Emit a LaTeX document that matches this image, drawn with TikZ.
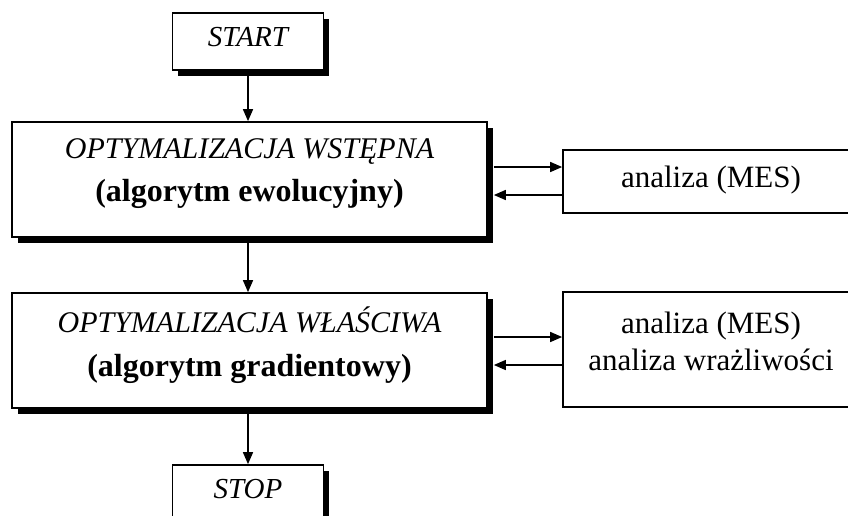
\documentclass[tikz,border=0pt]{standalone}
\usepackage{fontspec}
\setmainfont{Liberation Serif}
\usetikzlibrary{calc,shadows,arrows.meta}
\tikzset{
  box/.style={draw=black, line width=1.7pt, fill=white, rectangle, inner sep=0pt,
    drop shadow={shadow xshift=5.5pt, shadow yshift=-5.5pt, fill=black, opacity=1}},
  plainbox/.style={draw=black, line width=1.7pt, fill=white, rectangle, inner sep=0pt},
  txt/.style={inner sep=0pt, align=center, font=\fontsize{31}{43}\selectfont},
  arr/.style={line width=1.5pt, -{Triangle[length=12pt,width=10pt]}},
}
\begin{document}
\begin{tikzpicture}[x=1pt,y=-1pt]
\clip (0,0) rectangle (848,515);
\fill[white] (0,0) rectangle (848,515);
% boxes
\node[box, minimum width=151pt, minimum height=57pt] (start) at (248,41.5) {};
\node[box, minimum width=475pt, minimum height=115pt] (opt1) at (249.5,179.5) {};
\node[plainbox, minimum width=296pt, minimum height=63pt] (an1) at (711,181.5) {};
\node[box, minimum width=475pt, minimum height=115pt] (opt2) at (249.5,350.5) {};
\node[plainbox, minimum width=296pt, minimum height=115pt] (an2) at (711,349.5) {};
\node[box, minimum width=151pt, minimum height=57pt] (stop) at (248,493.5) {};
% texts
\node[txt, font=\fontsize{29}{34}\selectfont\itshape] (tstart) at ($(start.center)+(0,-4)$) {START};
\node[txt] (topt1) at ($(opt1.center)+(0,-6)$)
  {{\fontsize{30}{43}\selectfont\itshape OPTYMALIZACJA WSTĘPNA}\\ {\fontsize{32}{43}\selectfont\bfseries (algorytm ewolucyjny)}};
\node[txt, font=\fontsize{31}{37}\selectfont] (tan1) at ($(an1.center)+(0,-1.5)$) {analiza (MES)};
\node[txt, font=\fontsize{31}{44}\selectfont] (topt2) at ($(opt2.center)+(0,-5.5)$)
  {{\fontsize{30}{44}\selectfont\itshape OPTYMALIZACJA WŁAŚCIWA}\\ {\fontsize{32}{44}\selectfont\bfseries (algorytm gradientowy)}};
\node[txt, font=\fontsize{31}{37}\selectfont] (tan2) at ($(an2.center)+(0,-8)$) {analiza (MES)\\ analiza wrażliwości};
\node[txt, font=\fontsize{29}{34}\selectfont\itshape] (tstop) at ($(stop.center)+(0,-4)$) {STOP};
% connectors
\draw[arr] (start.south) -- (start.south |- opt1.north);
\draw[arr] (opt1.south -| start.south) ++(0,5) -- (start.south |- opt2.north);
\draw[arr] (opt2.south -| start.south) ++(0,5) -- (stop.north);
\coordinate (r1) at ($(opt1.east)+(6,-12.5)$);
\coordinate (l1) at ($(opt1.east)+(6,15.5)$);
\draw[arr] (r1) -- (r1 -| an1.west);
\draw[arr] (l1 -| an1.west) -- (l1);
\coordinate (r2) at ($(opt2.east)+(6,-13.5)$);
\coordinate (l2) at ($(opt2.east)+(6,14.5)$);
\draw[arr] (r2) -- (r2 -| an2.west);
\draw[arr] (l2 -| an2.west) -- (l2);
\end{tikzpicture}
\end{document}
